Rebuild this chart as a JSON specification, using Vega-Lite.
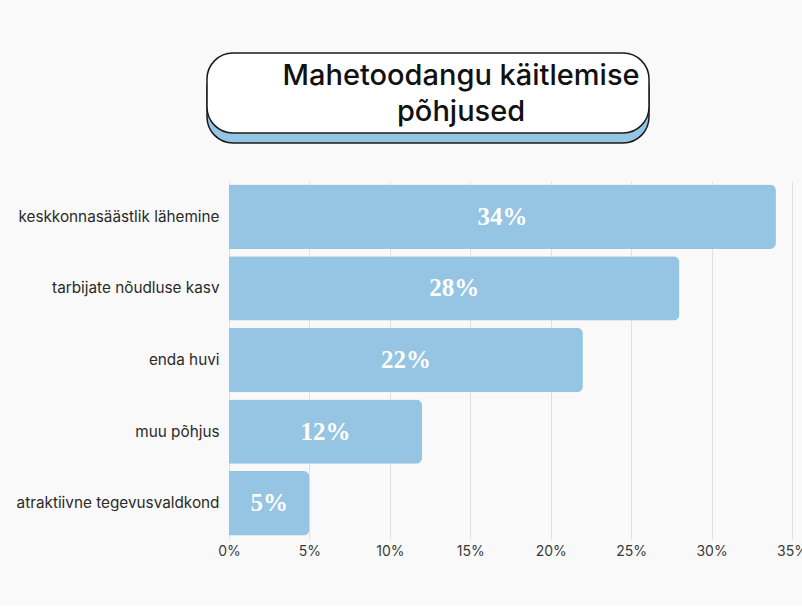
{
  "$schema": "https://vega.github.io/schema/vega-lite/v6.json",
  "background": "#f9f9f9",
  "padding": {"left": 16, "top": 52, "right": 0, "bottom": 48},
  "autosize": {"type": "pad"},
  "bounds": "flush",
  "spacing": 48,
  "config": {
    "view": {"stroke": null},
    "font": "Inter"
  },
  "vconcat": [
    {
      "width": 442,
      "height": 80,
      "data": {"values": [{"title": ["Mahetoodangu käitlemise", "põhjused"], "x0": 0, "x1": 1, "y0": 0, "y1": 1}]},
      "encoding": {
        "x": {"field": "x0", "type": "quantitative", "scale": {"domain": [0, 1], "nice": false, "zero": false}, "axis": null},
        "x2": {"field": "x1"},
        "y": {"field": "y0", "type": "quantitative", "scale": {"domain": [0, 1], "nice": false, "zero": false}, "axis": null},
        "y2": {"field": "y1"}
      },
      "layer": [
        {
          "mark": {"type": "rect", "fill": "#95c5e3", "stroke": "#1a1a1a", "strokeWidth": 1.5, "cornerRadius": 26, "xOffset": -22, "x2Offset": -22, "yOffset": 10, "y2Offset": 10}
        },
        {
          "mark": {"type": "rect", "fill": "#ffffff", "stroke": "#1a1a1a", "strokeWidth": 1.5, "cornerRadius": 26, "xOffset": -22, "x2Offset": -22}
        },
        {
          "mark": {"type": "text", "font": "Inter", "fontSize": 29, "fontWeight": 500, "color": "#111111", "align": "center", "baseline": "middle", "lineHeight": 36, "dy": -17},
          "encoding": {
            "x": {"datum": 0.525, "type": "quantitative"},
            "y": {"datum": 0.5, "type": "quantitative"},
            "x2": null, "y2": null,
            "text": {"field": "title"}
          }
        }
      ]
    },
    {
      "width": 563,
      "height": 358,
      "data": {"values": [
        {"reason": "keskkonnasäästlik lähemine", "share": 0.34},
        {"reason": "tarbijate nõudluse kasv", "share": 0.28},
        {"reason": "enda huvi", "share": 0.22},
        {"reason": "muu põhjus", "share": 0.12},
        {"reason": "atraktiivne tegevusvaldkond", "share": 0.05}
      ]},
      "transform": [{"calculate": "datum.share / 2", "as": "mid"}],
      "encoding": {
        "y": {
          "field": "reason", "type": "nominal", "sort": null,
          "scale": {"paddingInner": 0.1, "paddingOuter": 0.05},
          "axis": {"title": null, "domain": false, "ticks": false, "labelPadding": 10, "labelFontSize": 15.3, "labelLimit": 400, "labelColor": "#2a2a2a", "labelFont": "Inter"}
        }
      },
      "layer": [
        {
          "mark": {"type": "bar", "color": "#95c5e3", "cornerRadiusEnd": 6},
          "encoding": {
            "x": {
              "field": "share", "type": "quantitative",
              "scale": {"domain": [0, 0.35], "nice": false},
              "axis": {"title": null, "format": ".0%", "values": [0, 0.05, 0.1, 0.15, 0.2, 0.25, 0.3, 0.35], "domain": false, "ticks": false, "labelPadding": 5, "labelFontSize": 14, "labelColor": "#3a3a3a", "labelFont": "Inter", "gridColor": "#e0e0e0", "gridWidth": 1, "labelFlush": false}
            }
          }
        },
        {
          "mark": {"type": "text", "font": "Liberation Serif", "fontWeight": "bold", "fontSize": 25, "color": "#ffffff", "align": "center", "baseline": "middle"},
          "encoding": {
            "x": {"field": "mid", "type": "quantitative"},
            "text": {"field": "share", "type": "quantitative", "format": ".0%"}
          }
        }
      ]
    }
  ]
}
